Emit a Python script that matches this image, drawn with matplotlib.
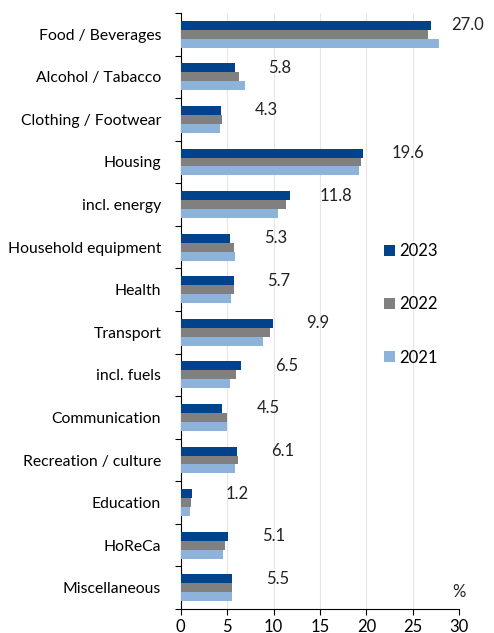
import matplotlib
matplotlib.use("Agg")
import matplotlib.pyplot as plt
import numpy as np

# categories, top to bottom
categories = ["Food / Beverages", "Alcohol / Tabacco", "Clothing / Footwear", "Housing",
              "incl. energy", "Household equipment", "Health", "Transport", "incl. fuels",
              "Communication", "Recreation / culture", "Education", "HoReCa", "Miscellaneous"]
years = ["2023", "2022", "2021"]
v2023 = [27.0, 5.8, 4.3, 19.6, 11.8, 5.3, 5.7, 9.9, 6.5, 4.5, 6.1, 1.2, 5.1, 5.5]
v2022 = [26.6, 6.3, 4.45, 19.4, 11.3, 5.75, 5.75, 9.6, 6.0, 4.95, 6.15, 1.15, 4.8, 5.5]
v2021 = [27.8, 6.9, 4.2, 19.15, 10.5, 5.9, 5.4, 8.9, 5.3, 5.0, 5.8, 1.05, 4.6, 5.55]
xticks = [0, 5, 10, 15, 20, 25, 30]

colors = ["#00438C", "#808080", "#8DB3DA"]

plt.rcParams['font.family'] = ['Lato', 'DejaVu Sans']
fig = plt.figure(figsize=(4.94, 6.33), dpi=100)
ax = fig.add_axes([0.3657, 0.0379, 0.5641, 0.9416])

y = np.arange(len(categories))
h = 0.21
for k, (vals, c, lab) in enumerate(zip([v2023, v2022, v2021], colors, years)):
    ax.barh(y + (k - 1) * h, vals, height=h, color=c, label=lab, zorder=3)

# value labels for 2023
for i, v in enumerate(v2023):
    ax.text(min(v + 4.9, 30.9), y[i] - h, f"{v:.1f}", ha="center", va="center",
            fontsize=12, color="#222222", clip_on=False)

ax.text(30, 13.1, "%", ha="center", va="center", fontsize=12, color="#222222")

ax.set_xlim(0, 30)
ax.set_ylim(len(categories) - 0.5, -0.5)
ax.set_xticks(xticks)
ax.set_xticklabels([str(t) for t in xticks], fontsize=12)
ax.set_yticks(np.arange(len(categories) + 1) - 0.5)
ax.set_yticklabels([])
ax.set_yticks(y, minor=True)
ax.set_yticklabels(categories, minor=True, fontsize=11.3)
ax.tick_params(axis="y", which="minor", length=0, pad=14)
ax.tick_params(axis="y", which="major", length=4)
ax.tick_params(axis="x", length=4, pad=3)
ax.xaxis.grid(True, color="#e6e6e6", linewidth=0.8, zorder=0)
ax.set_axisbelow(True)
for s in ["top", "right"]:
    ax.spines[s].set_visible(False)

ax.legend(loc="center left", bbox_to_anchor=(0.675, 0.511), frameon=False, fontsize=12,
          handlelength=0.65, handleheight=0.65, handletextpad=0.3, labelspacing=2.23)

fig.savefig("out.png", dpi=100)
